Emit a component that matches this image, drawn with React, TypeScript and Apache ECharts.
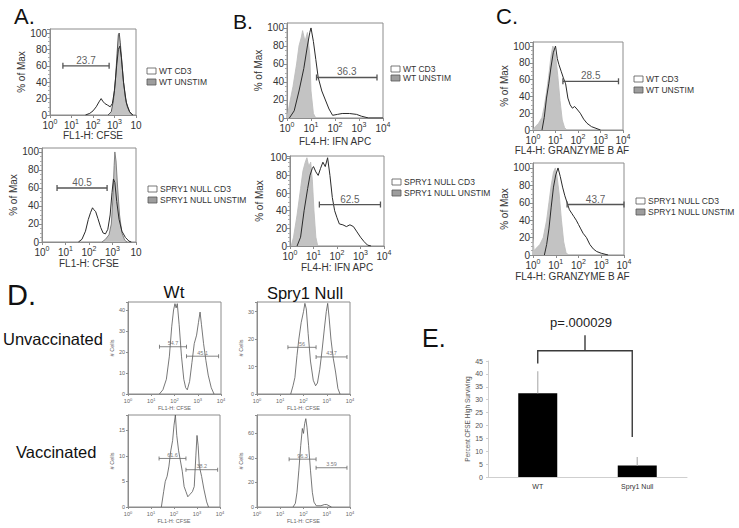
import React, { useEffect, useRef } from "react";
import * as echarts from "echarts";

const FONT = "'Liberation Sans', Arial, Helvetica, sans-serif";

// x = log10 of fluorescence (decades 0..4); y = % of max (A-C) or # cells (D)
// Panel A: FL1-H CFSE
const aWtUnstim = [[2.7,0],[2.85,4],[2.95,18],[3.05,45],[3.12,75],[3.18,98],[3.22,100],[3.27,88],[3.35,62],[3.42,40],[3.5,22],[3.6,10],[3.72,3],[3.85,0]];
const aWtCd3 = [[1.65,0],[1.85,2],[2.0,5],[2.15,10],[2.28,16],[2.38,20],[2.45,17],[2.55,14],[2.68,12],[2.8,10],[2.9,14],[3.0,30],[3.1,60],[3.18,80],[3.25,84],[3.32,70],[3.42,40],[3.55,15],[3.7,4],[3.85,0]];
const aNullUnstim = [[2.55,0],[2.7,3],[2.85,8],[2.95,20],[3.02,50],[3.07,85],[3.1,100],[3.15,90],[3.22,60],[3.3,30],[3.4,10],[3.52,2],[3.62,0]];
const aNullCd3 = [[1.55,0],[1.7,3],[1.85,12],[1.97,25],[2.07,33],[2.15,38],[2.2,36],[2.28,34],[2.38,26],[2.5,16],[2.6,10],[2.7,9],[2.8,14],[2.9,30],[2.98,55],[3.04,70],[3.1,66],[3.18,45],[3.28,25],[3.4,12],[3.55,5],[3.7,1],[3.8,0]];
const aWtGate: [number, number, number, string] = [0.6, 2.75, 60, "23.7"];
const aNullGate: [number, number, number, string] = [0.64, 2.77, 60, "40.5"];

// Panel B: FL4-H IFN APC
const bWtUnstim = [[0,0],[0.1,15],[0.25,35],[0.4,60],[0.5,80],[0.6,90],[0.65,97],[0.75,85],[0.85,95],[0.95,70],[1.0,30],[1.1,5],[1.2,0]];
const bWtCd3 = [[0.1,0],[0.3,8],[0.5,30],[0.7,55],[0.85,80],[0.95,95],[1.0,100],[1.1,85],[1.2,65],[1.3,45],[1.45,30],[1.6,20],[1.75,10],[1.9,3],[2.1,4],[2.3,5],[2.6,5],[2.9,4],[3.1,2],[3.4,0],[4,0]];
const bNullUnstim = [[0.05,0],[0.15,10],[0.3,35],[0.45,65],[0.55,85],[0.65,95],[0.72,100],[0.8,90],[0.88,95],[0.95,75],[1.02,40],[1.1,10],[1.18,0]];
const bNullCd3 = [[0.3,0],[0.45,10],[0.6,40],[0.75,65],[0.85,80],[0.95,88],[1.0,90],[1.1,84],[1.2,80],[1.3,88],[1.4,95],[1.5,90],[1.6,100],[1.7,80],[1.8,55],[1.9,40],[2.0,32],[2.1,25],[2.25,24],[2.4,22],[2.55,24],[2.7,22],[2.85,16],[3.0,10],[3.15,5],[3.3,1],[3.45,0]];
const bWtGate: [number, number, number, string] = [1.23, 3.75, 45, "36.3"];
const bNullGate: [number, number, number, string] = [1.25, 3.85, 47, "62.5"];

// Panel C: FL4-H Granzyme B
const cWtUnstim = [[0,0],[0.1,4],[0.25,8],[0.4,15],[0.5,28],[0.6,45],[0.7,65],[0.8,88],[0.88,100],[0.95,96],[1.02,85],[1.1,65],[1.2,35],[1.3,12],[1.4,3],[1.5,0]];
const cWtCd3 = [[0.4,0],[0.5,15],[0.6,38],[0.7,55],[0.8,75],[0.9,92],[1.0,100],[1.08,85],[1.15,78],[1.25,70],[1.35,62],[1.45,55],[1.55,38],[1.65,30],[1.75,26],[1.85,28],[1.95,25],[2.1,20],[2.25,13],[2.4,8],[2.6,4],[2.8,2],[3.0,0]];
const cNullUnstim = [[0,18],[0.05,5],[0.15,8],[0.3,12],[0.45,20],[0.6,40],[0.7,60],[0.8,80],[0.9,95],[0.98,100],[1.05,92],[1.15,70],[1.25,40],[1.35,15],[1.45,3],[1.55,0]];
const cNullCd3 = [[0.5,0],[0.6,12],[0.7,30],[0.8,55],[0.9,78],[1.0,92],[1.1,100],[1.2,90],[1.3,78],[1.4,68],[1.5,60],[1.6,52],[1.7,48],[1.8,44],[1.9,40],[2.0,35],[2.1,30],[2.2,25],[2.35,20],[2.5,12],[2.65,7],[2.8,4],[3.0,2],[3.3,0]];
const cWtGate: [number, number, number, string] = [1.33, 3.8, 58, "28.5"];
const cNullGate: [number, number, number, string] = [1.5, 4.0, 58, "43.7"];

// Panel D: FL1-H CFSE, # cells
const dWtUnvac = [[1.35,0],[1.5,2],[1.65,7],[1.78,18],[1.88,32],[1.96,40],[2.02,43],[2.07,41],[2.12,43],[2.2,33],[2.3,18],[2.4,7],[2.48,3],[2.55,2],[2.65,6],[2.75,15],[2.85,24],[2.95,28],[3.03,34],[3.1,39],[3.16,33],[3.25,24],[3.35,16],[3.45,9],[3.58,3],[3.7,0]];
const dWtVac = [[1.45,0],[1.55,3],[1.62,5],[1.7,6],[1.78,8],[1.86,11],[1.94,13],[2.0,16],[2.06,18],[2.12,14],[2.2,11],[2.28,9],[2.36,7],[2.44,4],[2.52,3],[2.6,2],[2.7,2.5],[2.8,3],[2.88,4],[2.95,10],[3.0,14],[3.05,12],[3.1,8],[3.2,6],[3.3,3.5],[3.42,1],[3.5,0]];
const dNullUnvac = [[1.45,0],[1.55,3],[1.63,6],[1.72,14],[1.8,20],[1.9,26],[2.0,30],[2.06,33],[2.12,31],[2.2,22],[2.3,12],[2.42,5],[2.52,3],[2.6,4],[2.7,9],[2.8,16],[2.9,24],[2.98,30],[3.04,33],[3.1,28],[3.18,20],[3.28,13],[3.38,8],[3.48,2],[3.57,0]];
const dNullVac = [[1.55,0],[1.65,3],[1.72,12],[1.8,30],[1.88,50],[1.95,64],[2.0,60],[2.05,68],[2.1,72],[2.15,65],[2.22,50],[2.3,30],[2.38,12],[2.45,4],[2.55,1],[2.75,1],[2.9,2],[3.0,2],[3.1,1],[3.2,0]];
const dWtUnvacGates: [number, number, number, string][] = [[1.35, 2.52, 22.5, "54.7"], [2.52, 3.9, 18, "45.1"]];
const dWtVacGates: [number, number, number, string][] = [[1.35, 2.52, 9.5, "61.6"], [2.52, 3.9, 7.3, "38.2"]];
const dNullUnvacGates: [number, number, number, string][] = [[1.33, 2.54, 17, "56"], [2.54, 3.87, 13.5, "43.7"]];
const dNullVacGates: [number, number, number, string][] = [[1.38, 2.54, 39, "96.3"], [2.54, 3.87, 32, "3.59"]];

// Panel E
const eCategories = ["WT", "Spry1 Null"];
const eMeans = [32.5, 4.5];
const eErrUpper = [41, 7.8];
const eBracket = [49, 44, 15.5, 55]; // level, left leg end, right leg end, centre tick top
const pLabel = "p=.000029";
const pLabelLevel = 60;

type Gate = [number, number, number, string];
interface Panel {
  grid: { left: number; top: number; width: number; height: number };
  yMax: number;
  yInt: number;
  fill?: number[][];
  fillEdge?: string;
  line: number[][];
  gates: Gate[];
  xName: string;
  yName: string;
  xGap: number;
  yGap: number;
  small: boolean;
  lastPlain?: boolean;
  xNamePad?: number[];
}

const panels: Panel[] = [
  { grid: { left: 50, top: 29, width: 86, height: 86 }, yMax: 104.9, yInt: 20, fill: aWtUnstim, fillEdge: "#444", line: aWtCd3, gates: [aWtGate], xName: "FL1-H: CFSE", yName: "% of Max", xGap: 15, yGap: 17, small: false, lastPlain: true },
  { grid: { left: 42, top: 148, width: 94, height: 94 }, yMax: 104.4, yInt: 20, fill: aNullUnstim, fillEdge: "#777", line: aNullCd3, gates: [aNullGate], xName: "FL1-H: CFSE", yName: "% of Max", xGap: 16, yGap: 19, small: false, lastPlain: true },
  { grid: { left: 287, top: 23, width: 96, height: 95 }, yMax: 105.5, yInt: 20, fill: bWtUnstim, fillEdge: "#bdbdbd", line: bWtCd3, gates: [bWtGate], xName: "FL4-H: IFN APC", yName: "% of Max", xGap: 18, yGap: 22, small: false },
  { grid: { left: 290, top: 156, width: 94, height: 90 }, yMax: 102, yInt: 20, fill: bNullUnstim, fillEdge: "#bdbdbd", line: bNullCd3, gates: [bNullGate], xName: "FL4-H: IFN APC", yName: "% of Max", xGap: 16, yGap: 26, small: false },
  { grid: { left: 533, top: 42, width: 90, height: 88 }, yMax: 104.8, yInt: 20, fill: cWtUnstim, fillEdge: "#bdbdbd", line: cWtCd3, gates: [cWtGate], xName: "FL4-H: GRANZYME B AF", yName: "% of Max", xGap: 12, yGap: 20, small: false, xNamePad: [0, 12, 0, 0] },
  { grid: { left: 533, top: 163, width: 91, height: 92 }, yMax: 105.7, yInt: 20, fill: cNullUnstim, fillEdge: "#bdbdbd", line: cNullCd3, gates: [cNullGate], xName: "FL4-H: GRANZYME B AF", yName: "% of Max", xGap: 16, yGap: 20, small: false, xNamePad: [0, 12, 0, 0] },
  { grid: { left: 128, top: 302, width: 93, height: 92 }, yMax: 43.8, yInt: 10, line: dWtUnvac, gates: dWtUnvacGates, xName: "FL1-H: CFSE", yName: "# Cells", xGap: 11, yGap: 9, small: true },
  { grid: { left: 128, top: 415, width: 92, height: 92 }, yMax: 18, yInt: 5, line: dWtVac, gates: dWtVacGates, xName: "FL1-H: CFSE", yName: "# Cells", xGap: 11, yGap: 9, small: true },
  { grid: { left: 257, top: 302, width: 93, height: 92 }, yMax: 33.5, yInt: 10, line: dNullUnvac, gates: dNullUnvacGates, xName: "FL1-H: CFSE", yName: "# Cells", xGap: 11, yGap: 9, small: true },
  { grid: { left: 257, top: 415, width: 93, height: 92 }, yMax: 75, yInt: 20, line: dNullVac, gates: dNullVacGates, xName: "FL1-H: CFSE", yName: "# Cells", xGap: 11, yGap: 9, small: true },
];

function gateSeries(i: number, g: Gate, small: boolean) {
  const [x1, x2, y, text] = g;
  const col = small ? "#666" : "#555";
  return [
    {
      type: "line",
      xAxisIndex: i,
      yAxisIndex: i,
      z: 6,
      silent: true,
      symbol: "rect",
      symbolSize: small ? [0.8, 4] : [1.3, 6],
      showSymbol: true,
      showAllSymbol: true,
      lineStyle: { color: col, width: small ? 0.8 : 1.3 },
      itemStyle: { color: col },
      label: { show: false },
      data: [[x1, y], [x2, y]],
    },
    {
      type: "scatter",
      xAxisIndex: i,
      yAxisIndex: i,
      z: 7,
      silent: true,
      symbol: "circle",
      symbolSize: 1,
      itemStyle: { color: "rgba(0,0,0,0)" },
      label: {
        show: true,
        position: "top",
        distance: small ? 0 : 0,
        formatter: text,
        fontSize: small ? 5.5 : 10,
        color: small ? "#555" : "#333",
        fontFamily: FONT,
      },
      data: [[(x1 + x2) / 2, y]],
    },
  ];
}

function buildOption() {
  const grid: any[] = [];
  const xAxis: any[] = [];
  const yAxis: any[] = [];
  const series: any[] = [];

  panels.forEach((p, i) => {
    const s = p.small;
    const col = s ? "#666" : "#333";
    grid.push({ ...p.grid, show: true, borderColor: "#8c8c8c", borderWidth: 1, containLabel: false });
    xAxis.push({
      gridIndex: i,
      type: "value",
      min: 0,
      max: 4,
      interval: 1,
      splitLine: { show: false },
      axisLine: { show: true, onZero: false, lineStyle: { color: "#8c8c8c", width: 1 } },
      axisTick: { show: true, length: s ? 2 : 3, lineStyle: { color: "#8c8c8c" } },
      axisLabel: {
        margin: 3,
        formatter: (v: number) => (p.lastPlain && v === 4 ? "{b|10}" : `{b|10}{s|${v}}`),
        rich: {
          b: { fontSize: s ? 5.5 : 10, lineHeight: s ? 8 : 14, fontFamily: FONT, color: col },
          s: { fontSize: s ? 4 : 7, lineHeight: s ? 5 : 8, verticalAlign: "top", fontFamily: FONT, color: col },
        },
      },
      name: p.xName,
      nameLocation: "middle",
      nameGap: p.xGap,
      nameTextStyle: { fontSize: s ? 5.5 : 10, color: col, fontFamily: FONT, padding: p.xNamePad || 0 },
    });
    yAxis.push({
      gridIndex: i,
      type: "value",
      min: 0,
      max: p.yMax,
      interval: p.yInt,
      splitLine: { show: false },
      axisLine: { show: true, lineStyle: { color: "#8c8c8c", width: 1 } },
      axisTick: { show: true, length: s ? 2 : 3, lineStyle: { color: "#8c8c8c" } },
      minorTick: { show: !s, splitNumber: 4, length: 2, lineStyle: { color: "#aaa" } },
      axisLabel: {
        margin: 3,
        fontSize: s ? 5.5 : 10,
        color: col,
        fontFamily: FONT,
        formatter: (v: number) => (Math.abs(v % p.yInt) < 1e-6 ? String(v) : ""),
      },
      name: p.yName,
      nameLocation: "middle",
      nameGap: p.yGap,
      nameTextStyle: { fontSize: s ? 5.5 : 10, color: col, fontFamily: FONT },
    });
    if (p.fill) {
      series.push({
        type: "line",
        xAxisIndex: i,
        yAxisIndex: i,
        data: p.fill,
        symbol: "none",
        silent: true,
        z: 2,
        lineStyle: { color: p.fillEdge, width: 0.9 },
        areaStyle: { color: "#c3c3c3", opacity: 1 },
      });
    }
    series.push({
      type: "line",
      xAxisIndex: i,
      yAxisIndex: i,
      data: p.line,
      symbol: "none",
      silent: true,
      z: 3,
      lineStyle: { color: s ? "#555" : "#2a2a2a", width: s ? 0.8 : 1 },
    });
    p.gates.forEach((g) => series.push(...gateSeries(i, g, s)));
  });

  // Panel E
  const ei = panels.length;
  grid.push({ left: 488, top: 361, width: 199, height: 116, show: false, containLabel: false });
  xAxis.push({
    gridIndex: ei,
    type: "category",
    data: eCategories,
    axisLine: { show: true, lineStyle: { color: "#cfcfcf" } },
    axisTick: { show: false },
    axisLabel: { fontSize: 7, color: "#333", fontFamily: FONT, margin: 6 },
  });
  yAxis.push({
    gridIndex: ei,
    type: "value",
    min: 0,
    max: 45,
    interval: 5,
    splitLine: { show: false },
    axisLine: { show: true, lineStyle: { color: "#cfcfcf" } },
    axisTick: { show: true, length: 2, lineStyle: { color: "#cfcfcf" } },
    axisLabel: { fontSize: 7, color: "#555", fontFamily: FONT, margin: 5 },
    name: "Percent CFSE High Surviving",
    nameLocation: "middle",
    nameGap: 16,
    nameTextStyle: { fontSize: 6.5, color: "#555", fontFamily: FONT },
  });
  series.push({
    type: "bar",
    xAxisIndex: ei,
    yAxisIndex: ei,
    data: eMeans,
    barWidth: 39,
    itemStyle: { color: "#000" },
    z: 2,
  });
  series.push({
    type: "custom",
    xAxisIndex: ei,
    yAxisIndex: ei,
    clip: false,
    z: 3,
    data: eCategories.map((_, k) => [k, eMeans[k], eErrUpper[k]]),
    renderItem: (_p: any, api: any) => {
      const a = api.coord([api.value(0), api.value(1)]);
      const b = api.coord([api.value(0), api.value(2)]);
      return {
        type: "line",
        shape: { x1: a[0], y1: a[1], x2: b[0], y2: b[1] },
        style: { stroke: "#b8b8b8", lineWidth: 1.3 },
      };
    },
  });
  series.push({
    type: "custom",
    xAxisIndex: ei,
    yAxisIndex: ei,
    clip: false,
    z: 4,
    data: [[0, 1, ...eBracket, pLabelLevel]],
    renderItem: (_p: any, api: any) => {
      const [lvl, lEnd, rEnd, tick] = eBracket;
      const L = api.coord([0, lvl]);
      const Le = api.coord([0, lEnd]);
      const R = api.coord([1, lvl]);
      const Re = api.coord([1, rEnd]);
      const rx = R[0] - 5;
      const mx = (L[0] + rx) / 2;
      const T = api.coord([0, tick]);
      const P = api.coord([0, pLabelLevel]);
      const st = { stroke: "#3a3a3a", lineWidth: 1.4, fill: null };
      return {
        type: "group",
        children: [
          { type: "polyline", shape: { points: [[L[0], Le[1]], [L[0], L[1]], [rx, L[1]], [rx, Re[1]]] }, style: st },
          { type: "line", shape: { x1: mx, y1: L[1], x2: mx, y2: T[1] }, style: st },
          {
            type: "text",
            x: mx - 4,
            y: P[1],
            style: { text: pLabel, fontSize: 13, fontFamily: FONT, fill: "#222", align: "center", verticalAlign: "middle" },
          },
        ],
      };
    },
  });

  // graphic: titles, group labels, legends
  const T = (text: string, x: number, y: number, fontSize: number, align = "left", fill = "#111") => ({
    type: "text",
    x,
    y,
    silent: true,
    style: { text, fontSize, fontFamily: FONT, fill, align, verticalAlign: "middle" },
  });
  const legend = (x: number, y: number, dy: number, labels: string[]) => {
    const out: any[] = [];
    labels.forEach((lab, k) => {
      out.push({
        type: "rect",
        silent: true,
        shape: { x, y: y + k * dy - 3, width: 9, height: 6 },
        style: { fill: k === 0 ? "#fff" : "#9d9d9d", stroke: "#555", lineWidth: 0.8 },
      });
      out.push(T(lab, x + 12, y + k * dy, 8.5, "left", "#333"));
    });
    return out;
  };

  const graphic = [
    T("A.", 14, 16, 22),
    T("B.", 233, 21, 21),
    T("C.", 496, 16, 22),
    T("D.", 7, 295, 29),
    T("E.", 422, 338, 25),
    T("Wt", 174, 292, 17, "center"),
    T("Spry1 Null", 305, 293, 16.5, "center"),
    T("Unvaccinated", 3, 339, 16.5),
    T("Vaccinated", 16, 452, 16.5),
    ...legend(147, 71, 11, ["WT CD3", "WT UNSTIM"]),
    ...legend(148, 189, 11, ["SPRY1 NULL CD3", "SPRY1 NULL UNSTIM"]),
    ...legend(391, 69, 9, ["WT CD3", "WT UNSTIM"]),
    ...legend(392, 182, 11, ["SPRY1 NULL CD3", "SPRY1 NULL UNSTIM"]),
    ...legend(634, 79, 11, ["WT CD3", "WT UNSTIM"]),
    ...legend(636, 201, 11, ["SPRY1 NULL CD3", "SPRY1 NULL UNSTIM"]),
  ];

  return {
    animation: false,
    backgroundColor: "#fff",
    textStyle: { fontFamily: FONT },
    grid,
    xAxis,
    yAxis,
    series,
    graphic,
  };
}

export default function App() {
  const ref = useRef<HTMLDivElement>(null);
  useEffect(() => {
    if (!ref.current) return;
    const chart = echarts.init(ref.current, null, { renderer: "svg" });
    chart.setOption(buildOption() as any);
    return () => chart.dispose();
  }, []);
  return (
    <div
      ref={ref}
      style={{ position: "fixed", left: 0, top: 0, width: 739, height: 528, background: "#fff" }}
    />
  );
}
